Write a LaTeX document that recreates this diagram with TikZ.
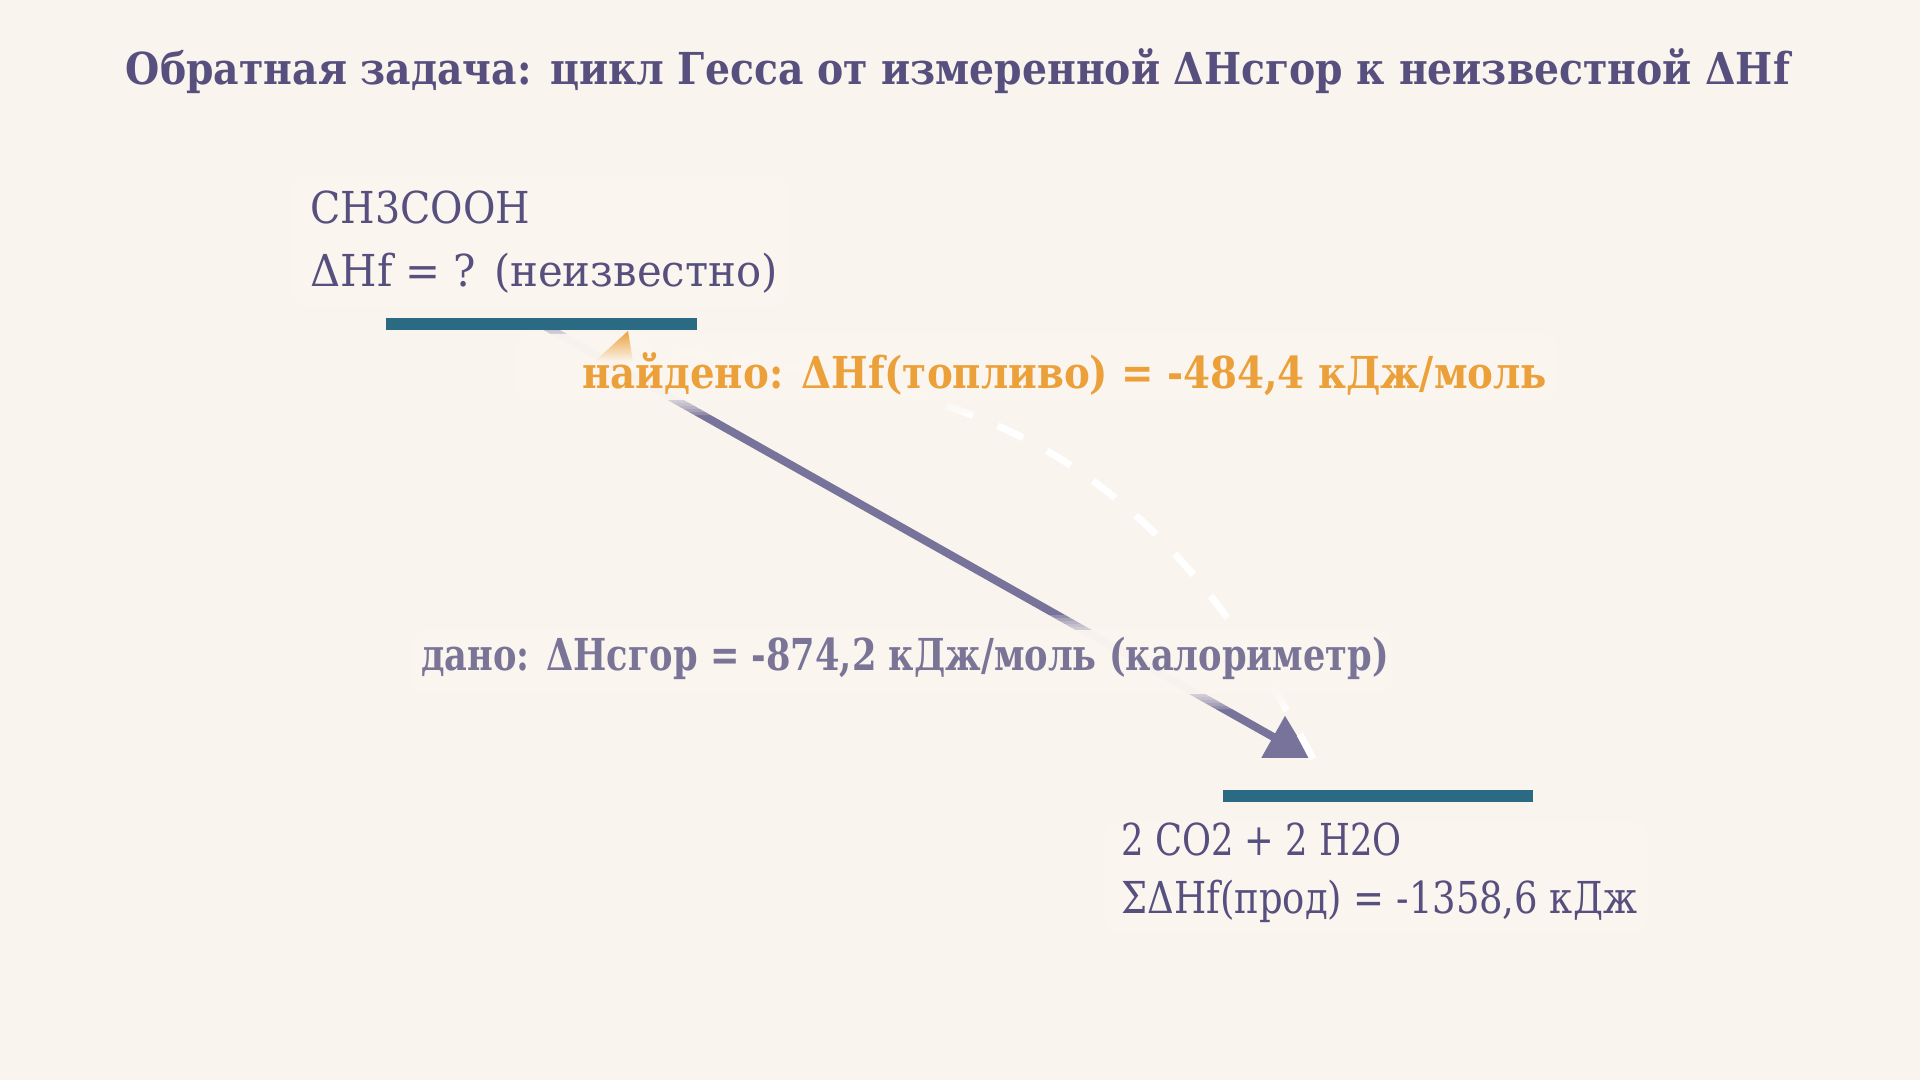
\documentclass[tikz,border=0pt]{standalone}
\usepackage{fontspec}
\usepackage{graphicx}
\setmainfont{DejaVu Serif Condensed}
\usetikzlibrary{arrows.meta}
\definecolor{bgc}{HTML}{FAF4EE}
\definecolor{boxc}{HTML}{FBF6F0}
\definecolor{ink}{HTML}{57507F}
\definecolor{inkl}{HTML}{7A7597}
\definecolor{arrc}{HTML}{78739A}
\definecolor{orng}{HTML}{ECA03A}
\definecolor{barc}{HTML}{2A6A82}
\newcommand\softbox[4]{%
  \foreach \k in {1,...,5}{\fill[boxc, fill opacity=0.2, rounded corners=8pt] ({#1-3*\k},{#2-3*\k}) rectangle ({#3+3*\k},{#4+3*\k});}
  \fill[boxc, fill opacity=0.92, rounded corners=8pt] (#1,#2) rectangle (#3,#4);}
\tikzset{
  lbl/.style={inner sep=0pt, text=ink, font=\fontsize{22pt}{26pt}\selectfont, anchor=base west},
  lblb/.style={inner sep=0pt, font=\fontsize{22pt}{26pt}\selectfont\bfseries, anchor=base west},
  levelbar/.style={fill=barc, inner sep=0pt, minimum height=6pt},
  given/.style={draw=arrc, line width=4pt, -{Triangle[length=21.5pt,width=23pt]}},
  found/.style={draw=white, line width=3.5pt, dash pattern=on 14pt off 13.5pt},
}
\begin{document}
\begin{tikzpicture}[x=0.5pt,y=-0.5pt]
\fill[bgc] (0,0) rectangle (1920,1080);
\useasboundingbox (0,0) rectangle (1920,1080);

% title
\node[inner sep=0pt, text=ink, font=\fontsize{22pt}{26pt}\selectfont\bfseries, anchor=base] (title) at (958,85) {\scalebox{0.993}[1]{Обратная задача: цикл Гесса от измеренной ΔHсгор к неизвестной ΔHf}};

% level bar positions (bars drawn on top later)
\coordinate (pA) at (541,324);
\coordinate (pB) at (1378,796);

% connectors
\draw[given, shorten >=38.7pt] (pA) -- (pB);
\coordinate (dS) at (1313,759);
\coordinate (dE) at (630,345);
\draw[found] (dS) .. controls (1130,403) and (927,385) .. (dE);

% label backgrounds
\softbox{292}{175}{788}{306}
\softbox{515}{334}{1558}{400}
\softbox{412}{630}{1392}{694}
\softbox{1104}{822}{1648}{932}

% level bars
\node[levelbar, minimum width=155.5pt] (lvlA) at (pA) {};
\node[levelbar, minimum width=155pt] (lvlB) at (pB) {};

% orange pointer from the found label to the upper level
\shade[top color=orng, bottom color=boxc] (628,331) -- (594,362) -- (633,362) -- cycle;

% labels
\node[lbl] (topA) at (310,224) {CH3COOH};
\node[lbl] (topB) at (310,287) {\scalebox{1.055}[1]{ΔHf = ? (неизвестно)}};
\node[lblb, text=orng] (found) at (582,388) {\scalebox{0.978}[1]{найдено: ΔHf(топливо) = -484,4 кДж/моль}};
\node[lblb, text=inkl] (given) at (421,670) {\scalebox{0.889}[1]{дано: ΔHсгор = -874,2 кДж/моль (калориметр)}};
\node[lbl] (botA) at (1121,855) {\scalebox{0.894}[1]{2 CO2 + 2 H2O}};
\node[lbl] (botB) at (1121,913) {\scalebox{0.933}[1]{ΣΔHf(прод) = -1358,6 кДж}};
\end{tikzpicture}
\end{document}
